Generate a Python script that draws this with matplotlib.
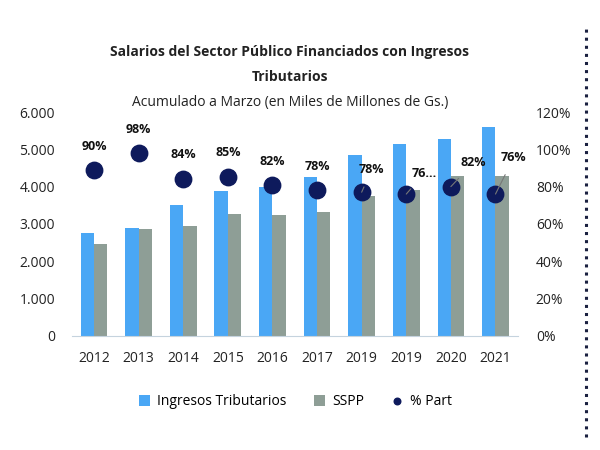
import matplotlib.pyplot as plt
import numpy as np
from matplotlib.lines import Line2D
from matplotlib.ticker import FuncFormatter

plt.rcParams['font.family'] = ['Open Sans', 'DejaVu Sans']

# data
years = ['2012', '2013', '2014', '2015', '2016', '2017', '2019', '2019', '2020', '2021']
ingresos = [2750, 2900, 3500, 3870, 4000, 4250, 4850, 5150, 5270, 5600]
sspp = [2450, 2850, 2950, 3270, 3250, 3320, 3750, 3920, 4280, 4280]
part = [89, 98, 84, 85, 81, 78, 77, 76, 80, 76]
part_labels = ['90%', '98%', '84%', '85%', '82%', '78%', '78%', '76...', '82%', '76%']

blue = '#4AA7F5'
gray = '#8E9E96'
navy = '#0E1A5C'

fig = plt.figure(figsize=(6, 4.5), dpi=100)
ax = fig.add_axes([0.1195, 0.254, 0.7435, 0.497])
ax2 = ax.twinx()

x = np.arange(len(years))
w = 0.3
ax.bar(x - w / 2, ingresos, w, color=blue, label='Ingresos Tributarios', zorder=2)
ax.bar(x + w / 2, sspp, w, color=gray, label='SSPP', zorder=2)

ax.set_xlim(-0.5, len(years) - 0.5)
ax.set_ylim(0, 6000)
ax.set_yticks(range(0, 6001, 1000))
ax.yaxis.set_major_formatter(FuncFormatter(lambda v, p: f'{int(v):,}'.replace(',', '.')))
ax.set_xticks(x)
ax.set_xticklabels(years)

ax2.set_ylim(0, 120)
ax2.set_yticks(range(0, 121, 20))
ax2.yaxis.set_major_formatter(FuncFormatter(lambda v, p: f'{int(v)}%'))
ax2.scatter(x, part, s=140, color=navy, zorder=4, label='% Part')

# labels: most above the dot, the last four up to the right with a leader line
offsets = [(0, 17), (0, 17), (0, 18), (0, 18), (0, 17), (0, 17), (7, 16), (13, 15), (16, 17), (13, 26)]
for i, (p, lab) in enumerate(zip(part, part_labels)):
    dx, dy = offsets[i]
    if i >= 6:
        ax2.annotate(lab, (x[i], p), xytext=(dx, dy), textcoords='offset points',
                     ha='center', va='center', fontsize=9, fontweight='bold', color='#111111',
                     arrowprops=dict(arrowstyle='-', color='#777777', lw=0.8, shrinkA=6, shrinkB=0),
                     zorder=6)
    else:
        ax2.annotate(lab, (x[i], p), xytext=(dx, dy), textcoords='offset points',
                     ha='center', va='center', fontsize=9, fontweight='bold', color='#111111',
                     zorder=6)

for a in (ax, ax2):
    for s in ('top', 'left', 'right', 'bottom'):
        a.spines[s].set_visible(False)
    a.tick_params(length=0, labelsize=10, colors='#222222')
ax.spines['bottom'].set_visible(True)
ax.spines['bottom'].set_color('#C5D3DE')
ax.tick_params(axis='y', pad=12)
ax.tick_params(axis='x', pad=11)
ax2.tick_params(axis='y', pad=13)

fig.text(0.483, 0.884, 'Salarios del Sector Público Financiados con Ingresos',
         ha='center', va='center', fontsize=10, fontweight='bold', color='#222222')
fig.text(0.483, 0.829, 'Tributarios', ha='center', va='center', fontsize=10,
         fontweight='bold', color='#222222')
fig.text(0.483, 0.773, 'Acumulado a Marzo (en Miles de Millones de Gs.)',
         ha='center', va='center', fontsize=10, color='#222222')

h1, l1 = ax.get_legend_handles_labels()
h2, l2 = ax2.get_legend_handles_labels()
fig.legend(h1 + h2, l1 + l2, loc='center', bbox_to_anchor=(0.492, 0.107), ncol=3,
           frameon=False, fontsize=10, handlelength=0.8, handleheight=0.8,
           columnspacing=2.0, handletextpad=0.5, markerscale=0.4)

fig.add_artist(Line2D([0.977, 0.977], [0.03, 0.94], transform=fig.transFigure,
                      color='#1A2040', lw=2.2, linestyle=':'))

fig.savefig('out.png', dpi=100, facecolor='white')
